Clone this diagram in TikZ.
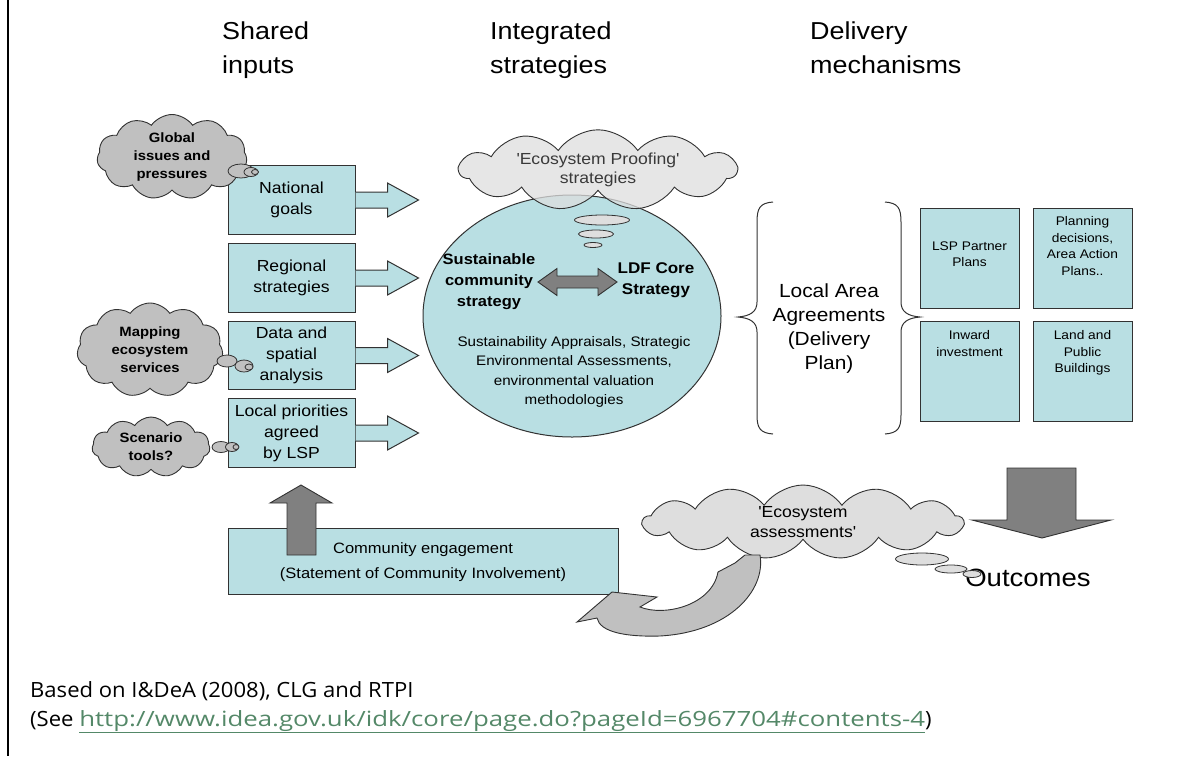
\documentclass[tikz,border=0pt]{standalone}
\usepackage{fontspec}
\setmainfont{Liberation Sans}[FakeStretch=1.1]
\newfontfamily\notefont{Open Sans}[FakeStretch=1.05]
\usepackage{tikz}
\usetikzlibrary{shapes,shapes.symbols,shapes.geometric,positioning}
\definecolor{boxteal}{RGB}{185,223,227}
\definecolor{cloudgray}{RGB}{192,192,192}
\definecolor{palegray}{RGB}{222,222,222}
\definecolor{darkarrow}{RGB}{128,128,128}
\definecolor{edgegray}{RGB}{50,50,50}
\definecolor{linkgreen}{RGB}{84,136,104}
\newcommand{\sq}{\XeTeXglyph\XeTeXglyphindex "quotesingle" \relax}
\tikzstyle{heading}=[anchor=north west,inner sep=0pt,align=left,
                font=\fontsize{24.5}{34}\selectfont]
\tikzstyle{inbox}=[draw=edgegray,fill=boxteal,line width=1pt,minimum width=127pt,
                minimum height=69pt,inner sep=0pt,align=center,
                font=\fontsize{16}{21}\selectfont]
\tikzstyle{outbox}=[draw=edgegray,fill=boxteal,line width=1pt,minimum width=99pt,
                minimum height=100pt,inner sep=0pt]
\tikzstyle{boxtext}=[anchor=north,inner sep=0pt,align=center,
                font=\fontsize{12.5}{16.5}\selectfont]
\tikzstyle{thought}=[cloud,cloud puffs=11,cloud puff arc=110,cloud ignores aspect,
                draw=edgegray,line width=0.9pt,inner sep=0pt,align=center]
\tikzstyle{darkcloud}=[thought,fill=cloudgray,font=\bfseries\fontsize{13.5}{18}\selectfont]
\tikzstyle{palecloud}=[thought,fill=palegray,font=\fontsize{16}{19.5}\selectfont]
\tikzstyle{bub}=[ellipse,draw=edgegray,line width=0.8pt,inner sep=0pt]
\tikzstyle{blockarrow}=[draw=edgegray,line width=1pt,fill=boxteal]
\tikzstyle{greyarrow}=[draw=edgegray,line width=0.9pt,fill=darkarrow]

\begin{document}
\begin{tikzpicture}[x=1pt,y=-1pt]
\useasboundingbox (0,0) rectangle (1188,756);
\draw[line width=1.5pt] (8,0) -- (8,756);

% column headings
\node[heading] (hin) at (222,22) {Shared\\inputs};
\node[heading] (hst) at (490,22) {Integrated\\strategies};
\node[heading] (hdl) at (810,22) {Delivery\\mechanisms};

% shared inputs
\node[inbox] (ng) at (291.5,200) {National\\goals};
\node[inbox, below=8pt of ng] (rs) {Regional\\strategies};
\node[inbox, below=8pt of rs, minimum height=68pt] (ds) {Data and\\spatial\\analysis};
\node[inbox, below=8pt of ds] (lp) {Local priorities\\agreed\\by LSP};
\foreach \b in {ng,rs,ds,lp}
  \filldraw[blockarrow] (\b.east) ++(0,-8) -- ++(32,0) -- ++(0,-9) -- ++(31,17)
     -- ++(-31,17) -- ++(0,-9) -- ++(-32,0);

% clouds on the left
\node[darkcloud, minimum width=150pt, minimum height=85pt] (gl) at (172,157)
  {Global\\issues and\\pressures};
\node[bub, fill=cloudgray, minimum width=26pt, minimum height=14pt] (gl1) at (241,171) {};
\node[bub, fill=cloudgray, minimum width=14pt, minimum height=9pt] (gl2) at (251,172) {};
\node[bub, fill=cloudgray, minimum width=7pt, minimum height=5pt] (gl3) at (255,172) {};
\node[darkcloud, minimum width=146pt, minimum height=94pt] (mp) at (150,350)
  {Mapping\\ecosystem\\services};
\node[bub, fill=cloudgray, minimum width=20pt, minimum height=12pt] (mp1) at (227,361) {};
\node[bub, fill=cloudgray, minimum width=18pt, minimum height=12pt] (mp2) at (244,366) {};
\node[bub, fill=cloudgray, minimum width=8pt, minimum height=6pt] (mp3) at (249,367) {};
\node[darkcloud, minimum width=118pt, minimum height=60pt] (sc) at (151,447)
  {Scenario\\tools?};
\node[bub, fill=cloudgray, minimum width=18pt, minimum height=11pt] (sc1) at (221,447) {};
\node[bub, fill=cloudgray, minimum width=13pt, minimum height=9pt] (sc2) at (232,447) {};
\node[bub, fill=cloudgray, minimum width=6pt, minimum height=5pt] (sc3) at (236,447) {};

% integrated strategies
\node[ellipse, draw=edgegray, line width=1pt, fill=boxteal, minimum width=298pt,
  minimum height=242pt] (core) at (572,316) {};
\node[palecloud, fill opacity=0.75, minimum width=277pt, minimum height=63pt] (ep)
  at (598,170) {\sq Ecosystem Proofing\sq\\strategies};
\node[bub, fill=palegray, minimum width=55pt, minimum height=10pt] (ep1) at (602,220) {};
\node[bub, fill=palegray, minimum width=35pt, minimum height=8pt] (ep2) at (596,234) {};
\node[bub, fill=palegray, minimum width=18pt, minimum height=5pt] (ep3) at (593,245) {};
\node[align=center, font=\bfseries\fontsize{15}{21}\selectfont] (scs) at (489,282)
  {Sustainable\\community\\strategy};
\node[align=center, font=\bfseries\fontsize{15.5}{21}\selectfont] (ldf) at (656,280)
  {LDF Core\\Strategy};
\filldraw[greyarrow] (538,282) -- (557,268.5) -- (557,276) -- (598,276) -- (598,268.5)
  -- (617,282) -- (598,295.5) -- (598,288) -- (557,288) -- (557,295.5) -- cycle;
\node[align=center, font=\fontsize{13.8}{19.5}\selectfont] (sa) at (574,372)
  {Sustainability Appraisals, Strategic\\Environmental Assessments,\\
   environmental valuation\\methodologies};

% delivery mechanisms
\draw[edgegray, line width=1pt] (773,202) .. controls (760,203) and (757,208) .. (757,222)
  -- (757,302) .. controls (757,312) and (750,316) .. (738,317)
  .. controls (750,318) and (757,322) .. (757,332) -- (757,415)
  .. controls (757,428) and (760,433) .. (773,434);
\draw[edgegray, line width=1pt] (885,202) .. controls (898,203) and (901,208) .. (901,222)
  -- (901,302) .. controls (901,312) and (908,316) .. (920,317)
  .. controls (908,318) and (901,322) .. (901,332) -- (901,415)
  .. controls (901,428) and (898,433) .. (885,434);
\node[align=center, font=\fontsize{19}{24}\selectfont] (laa) at (829,329)
  {Local Area\\Agreements\\(Delivery\\Plan)};
\node[outbox] (lsp) at (969.5,258) {};
\node[outbox, right=13pt of lsp] (pd) {};
\node[outbox, below=12pt of lsp] (iw) {};
\node[outbox, right=13pt of iw] (lb) {};
\node[boxtext] (lspt) at ([yshift=-34pt]lsp.north) {LSP Partner\\Plans};
\node[boxtext] (pdt) at ([yshift=-9pt]pd.north) {Planning\\decisions,\\Area Action\\Plans..};
\node[boxtext] (iwt) at ([yshift=-10pt]iw.north) {Inward\\investment};
\node[boxtext] (lbt) at ([yshift=-10pt]lb.north) {Land and\\Public\\Buildings};

% feedback loop
\node[inbox, minimum width=390pt, minimum height=66pt, font=\fontsize{15}{25}\selectfont,
  text depth=0pt] (ce) at (423,561) {Community engagement\\(Statement of Community Involvement)};
\filldraw[greyarrow] (287,555) -- (287,503) -- (270,503) -- (301,485) -- (332,503)
  -- (316,503) -- (316,555) -- cycle;
\node[palecloud, cloud puffs=13, minimum width=320pt, minimum height=74pt] (ea)
  at (803,522) {\sq Ecosystem\\assessments\sq};
\filldraw[draw=edgegray, line width=0.9pt, fill=cloudgray] (760,555)
  .. controls (766,590) and (730,632) .. (660,636)
  .. controls (625,637) and (600,632) .. (597,618) -- (577,622) -- (612,592)
  -- (657,597) -- (640,607) .. controls (665,617) and (712,605) .. (718,572)
  -- (735,563) -- (745,555) -- cycle;
\node[font=\fontsize{25}{30}\selectfont, inner sep=0pt] (out) at (1028,578) {Outcomes};
\node[bub, fill=palegray, minimum width=53pt, minimum height=12pt] (ea1) at (922,559) {};
\node[bub, fill=palegray, minimum width=32pt, minimum height=8pt] (ea2) at (951,569) {};
\node[bub, fill=palegray, minimum width=18pt, minimum height=7pt] (ea3) at (972,574) {};
\filldraw[greyarrow] (1007,468) -- (1076,468) -- (1076,520) -- (1111,520) -- (1042,538)
  -- (972,520) -- (1007,520) -- cycle;

% source
\node[anchor=north west, inner sep=0pt, align=left,
  font=\notefont\fontsize{21}{29}\selectfont] (src) at (30,681)
  {Based on I\&DeA (2008), CLG and RTPI\\
   (See \textcolor{linkgreen}{\scalebox{1.17}[1]{\underline{http://www.idea.gov.uk/idk/core/page.do?pageId=6967704\#contents-4}}})};
\end{tikzpicture}
\end{document}
